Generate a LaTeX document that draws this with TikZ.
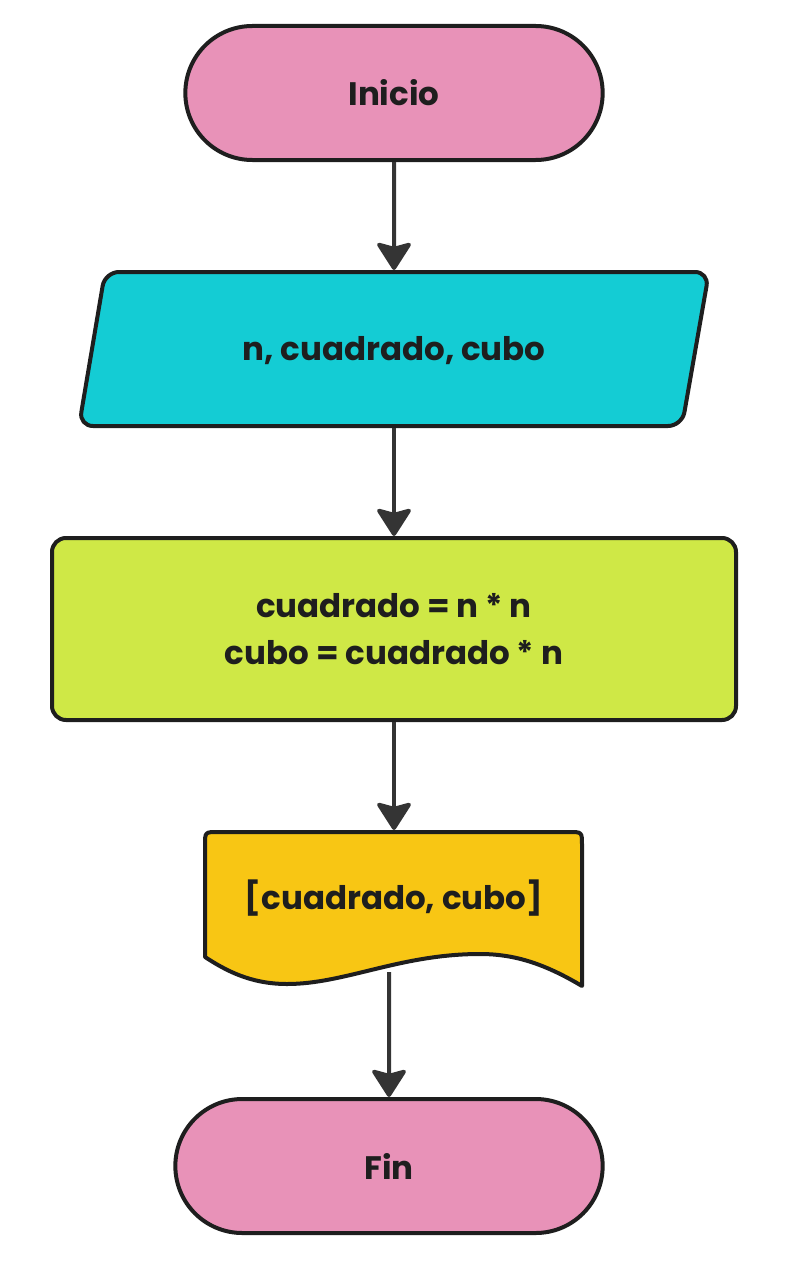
\documentclass[tikz,border=0pt]{standalone}
\usepackage{fontspec}
\setmainfont{Poppins}[BoldFont={* Bold}]
\usepackage{tikz}
\usetikzlibrary{arrows.meta,shapes.misc}
\definecolor{fcpink}{RGB}{232,146,184}
\definecolor{fccyan}{RGB}{20,204,212}
\definecolor{fclime}{RGB}{207,232,70}
\definecolor{fcyellow}{RGB}{248,198,20}
\definecolor{fcline}{RGB}{30,30,30}
\definecolor{fcarrow}{RGB}{52,52,52}
\tikzset{
  terminal/.style={rounded rectangle, draw=fcline, line width=4pt, fill=fcpink,
    minimum width=424pt, minimum height=134pt, font=\fontsize{32.5}{38}\selectfont\bfseries, text=fcline},
  flowline/.style={draw=fcline, line width=4pt, line join=round},
  flowtext/.style={font=\fontsize{32.5}{47}\selectfont\bfseries, text=fcline, align=center},
  flowarrow/.style={draw=fcarrow, line width=4pt, -{Stealth[length=30pt,width=38pt,inset=5pt,round]}}
}
\begin{document}
\begin{tikzpicture}[x=1pt,y=-1pt]
\useasboundingbox (0,0) rectangle (786,1271);

% Inicio
\node[terminal] (inicio) at (394,93) {Inicio};

% Datos de entrada
\draw[flowline, fill=fccyan, rounded corners=14pt] (105,272) -- (709,272) -- (682,426) -- (79,426) -- cycle;
\node[flowtext] (datos) at (394,351) {n, cuadrado, cubo};
\coordinate (datosN) at (394,270);
\coordinate (datosS) at (394,428);

% Proceso
\node[flowtext, draw=fcline, line width=4pt, fill=fclime, rounded corners=14pt,
  minimum width=684pt, minimum height=182pt] (proceso) at (394,629)
  {cuadrado = n * n\\cubo = cuadrado * n};

% Salida (documento)
\draw[flowline, fill=fcyellow] (205,957) -- (205,845) .. controls (205,832) .. (218,832)
  -- (569,832) .. controls (582,832) .. (582,845) -- (582,986)
  .. controls (545,964) and (515,954) .. (480,954)
  .. controls (400,954) and (345,984) .. (287,984)
  .. controls (250,984) and (225,970) .. (205,957) -- cycle;
\node[flowtext] (salida) at (394,898) {[cuadrado, cubo]};
\coordinate (salidaN) at (394,830);
\coordinate (salidaS) at (389,972);

% Fin
\node[terminal, minimum width=434pt] (fin) at (389,1166) {Fin};

% Flechas
\draw[flowarrow] (inicio) -- (datosN);
\draw[flowarrow] (datosS) -- (proceso);
\draw[flowarrow] (proceso) -- (salidaN);
\draw[flowarrow] (salidaS) -- (fin);
\end{tikzpicture}
\end{document}
